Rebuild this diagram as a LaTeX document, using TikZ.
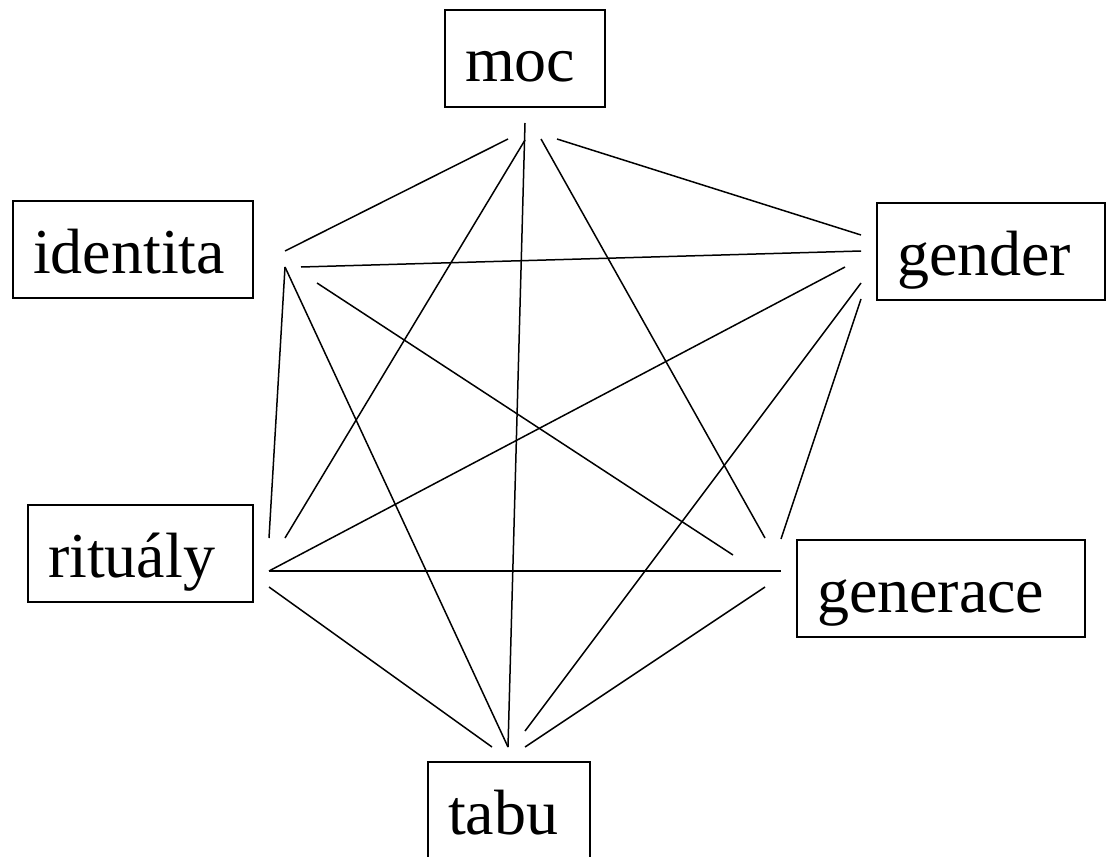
\documentclass[tikz,border=0pt]{standalone}
\usepackage{fontspec}
\setmainfont{Liberation Serif}
\begin{document}
\begin{tikzpicture}[x=1pt,y=-1pt,
  box/.style={draw, line width=2pt, inner xsep=20pt, inner ysep=0pt, outer sep=0pt,
    align=left, text height=72pt, text depth=25pt,
    font=\fontsize{64}{76}\selectfont, anchor=north west},
  link/.style={line width=1.5pt}]
\useasboundingbox (0,0) rectangle (1107,856);
% boxes
\node[box, text width=120pt] (moc) at (445,10) {moc};
\node[box, text width=200pt] (ide) at (13,201) {identita};
\node[box, text width=188pt] (gen) at (877,203) {gender};
\node[box, text width=185pt] (rit) at (28,505) {rituály};
\node[box, text width=248pt] (gnr) at (797,540) {generace};
\node[box, text width=122pt] (tab) at (428,762) {tabu};
% ports
\coordinate (moc-p1) at (508,139);
\coordinate (moc-p2) at (525,123);
\coordinate (moc-p3) at (525,140);
\coordinate (moc-p4) at (541,139);
\coordinate (moc-p5) at (557,139);
\coordinate (ide-p1) at (285,251);
\coordinate (ide-p2) at (301,267);
\coordinate (ide-p3) at (285,267);
\coordinate (ide-p4) at (317,283);
\coordinate (gen-p1) at (861,235);
\coordinate (gen-p2) at (861,251);
\coordinate (gen-p3) at (845,267);
\coordinate (gen-p4) at (861,283);
\coordinate (gen-p5) at (861,299);
\coordinate (rit-p1) at (269,538);
\coordinate (rit-p2) at (285,538);
\coordinate (rit-p3) at (269,571);
\coordinate (rit-p4) at (269,587);
\coordinate (gnr-p0) at (733,555);
\coordinate (gnr-p1) at (765,538);
\coordinate (gnr-p2) at (781,539);
\coordinate (gnr-p3) at (781,571);
\coordinate (gnr-p4) at (765,587);
\coordinate (tab-p1) at (492,747);
\coordinate (tab-p2) at (508,747);
\coordinate (tab-p3) at (525,731);
\coordinate (tab-p4) at (525,747);
% connectors
\draw[link] (moc-p1) -- (ide-p1);
\draw[link] (moc-p2) -- (tab-p2);
\draw[link] (moc-p3) -- (rit-p2);
\draw[link] (moc-p4) -- (gnr-p1);
\draw[link] (moc-p5) -- (gen-p1);
\draw[link] (ide-p2) -- (gen-p2);
\draw[link] (ide-p3) -- (rit-p1);
\draw[link] (ide-p3) -- (tab-p2);
\draw[link] (ide-p4) -- (gnr-p0);
\draw[link] (gen-p3) -- (rit-p3);
\draw[link] (gen-p4) -- (tab-p3);
\draw[link] (gen-p5) -- (gnr-p2);
\draw[link] (rit-p3) -- (gnr-p3);
\draw[link] (rit-p4) -- (tab-p1);
\draw[link] (gnr-p4) -- (tab-p4);
\end{tikzpicture}
\end{document}
